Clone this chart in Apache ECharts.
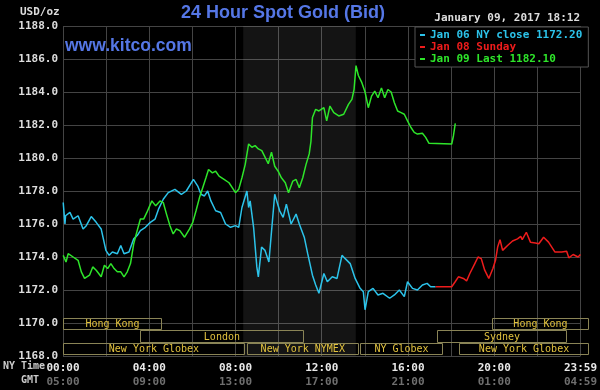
<!DOCTYPE html>
<html>
<head>
<meta charset="utf-8">
<script src="https://cdn.jsdelivr.net/npm/echarts@6/dist/echarts.min.js"></script>
<style>
html,body{margin:0;padding:0;background:#000;}
#chart{width:600px;height:390px;}
</style>
</head>
<body>
<div id="chart"></div>
<script>
// ---- data (hours since NY midnight, price) ----
const jan06 = [[0.01,1177.3],[0.09,1176.0],[0.12,1176.5],[0.32,1176.7],[0.47,1176.3],[0.70,1176.5],[0.93,1175.7],[1.08,1175.9],[1.31,1176.45],[1.54,1176.1],[1.77,1175.7],[1.99,1174.4],[2.14,1174.1],[2.29,1174.3],[2.52,1174.2],[2.68,1174.7],[2.83,1174.2],[3.06,1174.3],[3.28,1175.1],[3.44,1175.3],[3.59,1175.6],[3.82,1175.8],[4.05,1176.1],[4.27,1176.3],[4.43,1176.9],[4.65,1177.5],[4.88,1177.9],[5.19,1178.1],[5.49,1177.8],[5.72,1178.0],[6.05,1178.7],[6.25,1178.3],[6.40,1177.8],[6.56,1177.7],[6.71,1178.0],[6.86,1177.4],[7.08,1176.8],[7.31,1176.7],[7.54,1176.0],[7.77,1175.8],[8.00,1175.9],[8.15,1175.8],[8.30,1177.0],[8.53,1178.0],[8.61,1177.0],[8.68,1177.4],[8.84,1175.8],[8.99,1173.4],[9.06,1172.8],[9.21,1174.6],[9.37,1174.4],[9.55,1173.7],[9.82,1177.8],[10.05,1176.8],[10.21,1176.4],[10.36,1177.2],[10.58,1176.0],[10.81,1176.6],[10.96,1176.0],[11.19,1175.2],[11.35,1174.2],[11.57,1172.9],[11.72,1172.3],[11.87,1171.8],[12.10,1173.0],[12.26,1172.5],[12.49,1172.8],[12.71,1172.7],[12.94,1174.1],[13.09,1173.9],[13.32,1173.6],[13.55,1172.7],[13.78,1172.1],[13.93,1171.9],[14.01,1170.8],[14.16,1171.9],[14.38,1172.1],[14.61,1171.7],[14.84,1171.8],[15.15,1171.5],[15.37,1171.7],[15.60,1172.0],[15.83,1171.6],[15.98,1172.5],[16.21,1172.1],[16.44,1172.0],[16.67,1172.3],[16.89,1172.4],[17.05,1172.2],[17.28,1172.2]];
const jan08 = [[17.28,1172.2],[18.03,1172.2],[18.19,1172.5],[18.34,1172.8],[18.57,1172.7],[18.72,1172.55],[18.87,1173.0],[19.10,1173.6],[19.25,1174.0],[19.40,1173.9],[19.56,1173.2],[19.75,1172.7],[19.94,1173.3],[20.06,1173.8],[20.16,1174.6],[20.27,1175.05],[20.39,1174.4],[20.62,1174.7],[20.85,1174.97],[21.08,1175.1],[21.23,1175.25],[21.30,1175.05],[21.49,1175.5],[21.68,1174.9],[21.91,1174.85],[22.07,1174.8],[22.29,1175.2],[22.52,1174.9],[22.82,1174.3],[23.13,1174.3],[23.36,1174.35],[23.46,1173.95],[23.66,1174.15],[23.89,1174.0],[24.0,1174.15]];
const jan09 = [[0.01,1174.1],[0.14,1173.7],[0.24,1174.2],[0.47,1174.0],[0.70,1173.8],[0.85,1173.1],[1.00,1172.7],[1.23,1172.9],[1.38,1173.4],[1.54,1173.2],[1.77,1172.8],[1.92,1173.5],[2.07,1173.3],[2.22,1173.6],[2.37,1173.3],[2.52,1173.1],[2.68,1173.1],[2.83,1172.8],[2.98,1173.1],[3.13,1173.6],[3.28,1174.8],[3.44,1175.6],[3.59,1176.3],[3.74,1176.3],[3.89,1176.7],[4.12,1177.4],[4.30,1177.1],[4.50,1177.4],[4.65,1177.3],[4.80,1176.6],[4.96,1175.9],[5.11,1175.4],[5.26,1175.7],[5.42,1175.6],[5.64,1175.2],[5.72,1175.1],[5.87,1175.7],[6.02,1176.1],[6.17,1176.8],[6.33,1177.6],[6.48,1178.2],[6.63,1178.8],[6.75,1179.3],[6.93,1179.1],[7.08,1179.2],[7.24,1178.9],[7.47,1178.7],[7.70,1178.5],[7.85,1178.2],[8.00,1177.9],[8.15,1178.1],[8.30,1178.8],[8.45,1179.6],[8.61,1180.85],[8.76,1180.65],[8.91,1180.75],[9.06,1180.55],[9.22,1180.45],[9.37,1180.05],[9.52,1179.65],[9.67,1180.35],[9.82,1179.5],[9.98,1179.2],[10.13,1178.8],[10.31,1178.5],[10.46,1177.9],[10.66,1178.6],[10.81,1178.7],[10.96,1178.2],[11.12,1178.8],[11.27,1179.6],[11.42,1180.25],[11.50,1181.0],[11.57,1182.45],[11.72,1182.95],[11.87,1182.85],[12.10,1183.05],[12.23,1182.25],[12.38,1183.15],[12.56,1182.75],[12.79,1182.55],[13.02,1182.65],[13.24,1183.25],[13.40,1183.55],[13.50,1184.15],[13.59,1185.6],[13.70,1185.0],[13.85,1184.6],[14.01,1184.0],[14.16,1183.05],[14.31,1183.75],[14.46,1184.05],[14.61,1183.65],[14.77,1184.25],[14.92,1183.65],[15.07,1184.15],[15.22,1184.0],[15.37,1183.35],[15.52,1182.85],[15.68,1182.75],[15.83,1182.65],[15.98,1182.25],[16.14,1181.85],[16.29,1181.55],[16.44,1181.45],[16.67,1181.5],[16.82,1181.25],[16.97,1180.9],[17.05,1180.85],[18.03,1180.85],[18.11,1181.35],[18.19,1182.05],[18.20,1182.1]];

const seriesNames = ['Jan 06 NY close 1172.20', 'Jan 08 Sunday', 'Jan 09 Last 1182.10'];
const seriesColors = ['#2cc3ea', '#ee1c1c', '#2ee52a'];

// market sessions: name, start hour, end hour, row
const sessionNames = ['Hong Kong', 'London', 'New York Globex', 'New York NYMEX', 'NY Globex', 'Sydney', 'Hong Kong', 'New York Globex'];
const sessionStart = [0, 3.5, 0, 8.38, 13.55, 17.06, 19.57, 18.07];
const sessionEnd   = [4.52, 11.0, 8.3, 13.5, 17.34, 23.0, 24, 24];
const sessionRow   = [0, 1, 2, 2, 2, 1, 0, 2];

const shadeRange = [8.36, 13.58];
const yTicks = {min: 1168, max: 1188, interval: 2};
const xTicks = {min: 0, max: 24, interval: 2};

const mono = "'DejaVu Sans Mono', 'Liberation Mono', monospace";

function pad(n){ return (n < 10 ? '0' : '') + n; }
function fmtX(v){
  if (v % 4 !== 0) return '';
  if (v >= 24) return '{a|23:59}\n{b|04:59}';
  return '{a|' + pad(v) + ':00}\n{b|' + pad((v + 5) % 24) + ':00}';
}

const chart = echarts.init(document.getElementById('chart'), null, {renderer: 'canvas'});
const sessionData = sessionNames.map((n, i) => [sessionStart[i], sessionEnd[i], sessionRow[i]]);

chart.setOption({
  backgroundColor: '#000',
  animation: false,
  title: [
    {text: '24 Hour Spot Gold (Bid)', left: 181, top: 4, padding: 0,
     textStyle: {color: '#5577e6', fontSize: 18, fontWeight: 'bold', fontFamily: "'Liberation Sans', Arial, sans-serif"}},
    {text: 'www.kitco.com', left: 65, top: 37, padding: 0,
     textStyle: {color: '#5577e6', fontSize: 17.5, fontWeight: 'bold', fontFamily: "'Liberation Sans', Arial, sans-serif"}}
  ],
  legend: {
    orient: 'vertical', left: 415, top: 27, width: 175,
    backgroundColor: '#000', borderColor: '#555', borderWidth: 1,
    padding: [2, 6, 2, 5], itemGap: 0, itemWidth: 5, itemHeight: 2, icon: 'rect',
    selectedMode: false,
    textStyle: {fontFamily: mono, fontSize: 11, fontWeight: 'bold', lineHeight: 12},
    data: seriesNames.map((n, i) => ({name: n, itemStyle: {color: seriesColors[i]}, textStyle: {color: seriesColors[i]}}))
  },
  graphic: [
    {type: 'text', left: 20, top: 7, style: {text: 'USD/oz', fill: '#ddd', font: 'bold 11px ' + mono}},
    {type: 'text', right: 20, top: 13, style: {text: 'January 09, 2017 18:12', fill: '#ddd', font: 'bold 11px ' + mono}},
    {type: 'text', left: 3, top: 361, style: {text: 'NY Time', fill: '#ccc', font: 'bold 10px ' + mono}},
    {type: 'text', left: 21, top: 375, style: {text: 'GMT', fill: '#ccc', font: 'bold 10px ' + mono}}
  ],
  grid: [
    {left: 63, right: 11, top: 26, bottom: 34, containLabel: false},
    {left: 63, right: 11, top: 318, height: 37, containLabel: false}
  ],
  xAxis: [
    {type: 'value', gridIndex: 0, min: xTicks.min, max: xTicks.max, interval: xTicks.interval,
     axisLine: {show: false}, axisTick: {show: false},
     splitLine: {show: true, lineStyle: {color: '#444', width: 1}},
     axisLabel: {formatter: fmtX, margin: 5, showMinLabel: true, showMaxLabel: true,
       rich: {a: {color: '#e8e8e8', fontFamily: mono, fontWeight: 'bold', fontSize: 11, lineHeight: 14},
              b: {color: '#6f6f6f', fontFamily: mono, fontWeight: 'bold', fontSize: 11, lineHeight: 14}}}},
    {type: 'value', gridIndex: 1, min: 0, max: 24, show: false}
  ],
  yAxis: [
    {type: 'value', gridIndex: 0, min: yTicks.min, max: yTicks.max, interval: yTicks.interval,
     axisLine: {show: false}, axisTick: {show: false},
     splitLine: {show: true, lineStyle: {color: '#444', width: 1}},
     axisLabel: {formatter: v => v.toFixed(1), margin: 5, color: '#ddd', fontFamily: mono, fontWeight: 'bold', fontSize: 11}},
    {type: 'value', gridIndex: 1, min: 0, max: 3, inverse: true, show: false}
  ],
  series: [
    {name: seriesNames[0], type: 'line', xAxisIndex: 0, yAxisIndex: 0, data: jan06, showSymbol: false,
     lineStyle: {color: seriesColors[0], width: 1.5}, itemStyle: {color: seriesColors[0]}, z: 3,
     markArea: {silent: true, itemStyle: {color: 'rgba(255,255,255,0.08)'}, data: [[{xAxis: shadeRange[0]}, {xAxis: shadeRange[1]}]]}},
    {name: seriesNames[1], type: 'line', xAxisIndex: 0, yAxisIndex: 0, data: jan08, showSymbol: false,
     lineStyle: {color: seriesColors[1], width: 1.5}, itemStyle: {color: seriesColors[1]}, z: 3},
    {name: seriesNames[2], type: 'line', xAxisIndex: 0, yAxisIndex: 0, data: jan09, showSymbol: false,
     lineStyle: {color: seriesColors[2], width: 1.5}, itemStyle: {color: seriesColors[2]}, z: 4},
    {type: 'custom', xAxisIndex: 1, yAxisIndex: 1, data: sessionData, silent: true, z: 5,
     renderItem: function (params, api) {
       const s = api.value(0), e = api.value(1), r = api.value(2);
       const p1 = api.coord([s, r]), p2 = api.coord([e, r + 1]);
       const x0 = Math.round(p1[0]) + 0.5, y0 = Math.round(p1[1]) + 0.5;
       const w = Math.round(p2[0]) - Math.round(p1[0]) - 1, h = Math.round(p2[1]) - Math.round(p1[1]) - 1;
       return {type: 'group', children: [
         {type: 'rect', shape: {x: x0, y: y0, width: w, height: h},
          style: {fill: 'rgba(0,0,0,0)', stroke: '#8a8456', lineWidth: 1}},
         {type: 'text', style: {text: sessionNames[params.dataIndex], x: (p1[0] + p2[0]) / 2, y: (p1[1] + p2[1]) / 2 + 0.5,
          align: 'center', verticalAlign: 'middle', fill: '#e2c23e', font: '10px ' + mono}}
       ]};
     }}
  ]
});
</script>
</body>
</html>
